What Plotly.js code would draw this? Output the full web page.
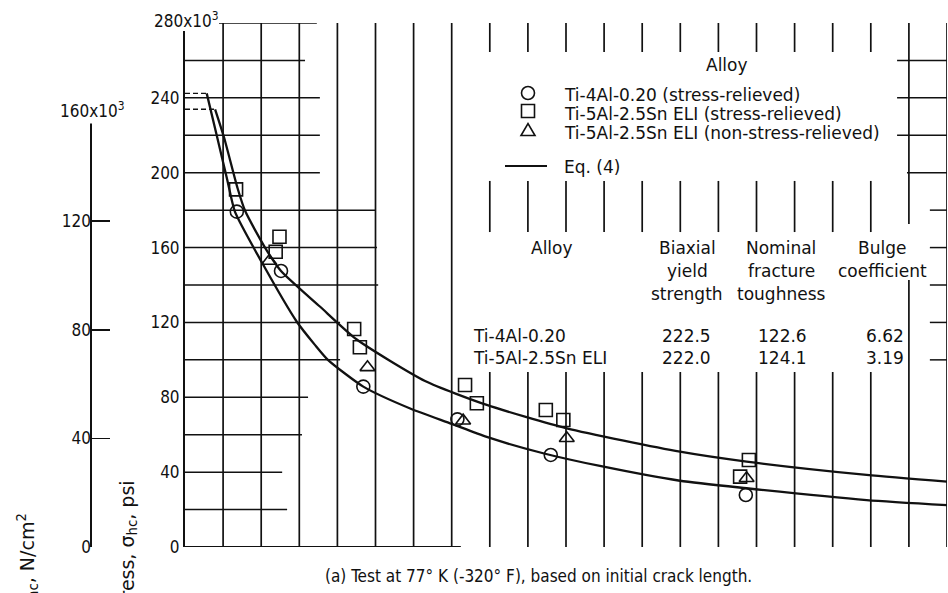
<!DOCTYPE html>
<html>
<head>
<meta charset="utf-8">
<script src="https://cdn.plot.ly/plotly-3.0.1.min.js"></script>
<style>
  html, body { margin: 0; padding: 0; background: #fff; }
  #chart { width: 948px; height: 593px; }
</style>
</head>
<body>
<div id="chart"></div>
<script>
// Hoop stress versus crack length at 77 K. Crack-length axis is in grid divisions (0-20),
// stress in thousands of psi; the N/cm^2 scale is the same stress converted.

// Eq. (4) curves
const eqLowX  = [0.57, 0.84, 1.11, 1.31, 2.02, 2.93, 3.41, 3.75, 4.68, 5.91, 7.00, 7.92, 9.40, 10.89, 12.99, 14.74, 17.89, 20.00];
const eqLowY  = [242.4, 219.3, 196.1, 179.2, 152.0, 120.5, 108.0, 100.0, 85.7, 74.0, 65.8, 58.8, 50.1, 43.3, 35.4, 31.4, 25.1, 22.4];
const eqHighX = [0.79, 1.02, 1.38, 1.58, 2.10, 2.52, 3.54, 4.50, 6.30, 7.92, 10.02, 12.99, 14.74, 17.89, 20.00];
const eqHighY = [233.9, 219.2, 191.7, 179.5, 160.0, 147.5, 128.5, 111.0, 88.7, 75.9, 63.4, 50.9, 45.6, 38.5, 34.9];

// Test points
const ti4AlX    = [1.36, 2.52, 4.68, 7.15, 9.60, 14.72];
const ti4AlY    = [179.2, 147.5, 85.7, 68.2, 49.2, 27.8];
const ti5AlSrX  = [1.34, 2.48, 2.38, 4.44, 4.59, 7.35, 7.66, 9.47, 9.93, 14.80, 14.57];
const ti5AlSrY  = [191.1, 165.8, 157.8, 116.5, 106.7, 86.6, 76.8, 73.2, 67.9, 46.5, 37.6];
const ti5AlNsrX = [2.21, 4.79, 7.30, 10.02, 14.74];
const ti5AlNsrY = [152.8, 96.0, 67.5, 58.1, 36.7];

// Axis ticks
const psiTicks = [0, 40, 80, 120, 160, 200, 240];
const psiTop = 280;
const ncmTicks = [0, 40, 80, 120];
const ncmTop = 160;
const PSI_TO_NCM = 0.68948;

// Legend and property table text
const legendTitle  = 'Alloy';
const legendLabels = ['Ti-4Al-0.20 (stress-relieved)', 'Ti-5Al-2.5Sn ELI (stress-relieved)',
                      'Ti-5Al-2.5Sn ELI (non-stress-relieved)', 'Eq. (4)'];
const tableAlloyHead = 'Alloy';
const tableColumns = [['Biaxial', 'yield', 'strength'], ['Nominal', 'fracture', 'toughness'], ['Bulge', 'coefficient']];
const tableAlloys = ['Ti-4Al-0.20', 'Ti-5Al-2.5Sn ELI'];
const biaxialYield = ['222.5', '222.0'];
const fractureToughness = ['122.6', '124.1'];
const bulgeCoefficient = ['6.62', '3.19'];
const caption = '(a) Test at 77\u00b0 K (-320\u00b0 F), based on initial crack length.';
const psiTitle = 'Hoop stress, \u03c3<sub>hc</sub>, psi';
const ncmTitle = 'Hoop stress, \u03c3<sub>hc</sub>, N/cm<sup>2</sup>';

// ---------------------------------------------------------------------------
const W = 948, H = 593;
const PX = v => v / W;          // pixel column -> paper x
const PY = v => 1 - v / H;      // pixel row -> paper y
const NARROW = '"DejaVu Sans Condensed", "DejaVu Sans", sans-serif';
const WIDE = '"DejaVu Sans", sans-serif';
const INK = '#111';

const traces = [];
[[eqLowX, eqLowY], [eqHighX, eqHighY]].forEach(([xs, ys]) => {
  traces.push({ x: xs, y: ys, mode: 'lines', showlegend: false, hoverinfo: 'skip',
    line: { color: INK, width: 2.3, shape: 'spline', smoothing: 0.6 } });
  // dashed cut-off back to the stress axis
  traces.push({ x: [0, xs[0]], y: [ys[0], ys[0]], mode: 'lines', showlegend: false, hoverinfo: 'skip',
    line: { color: INK, width: 1.4, dash: '5px,3px' } });
});
const markerStyle = sym => ({ symbol: sym, size: 13, color: INK, line: { width: 1.6, color: INK } });
traces.push({ x: ti4AlX, y: ti4AlY, mode: 'markers', name: legendLabels[0], showlegend: false, marker: markerStyle('circle-open') });
traces.push({ x: ti5AlSrX, y: ti5AlSrY, mode: 'markers', name: legendLabels[1], showlegend: false, marker: markerStyle('square-open') });
traces.push({ x: ti5AlNsrX, y: ti5AlNsrY, mode: 'markers', name: legendLabels[2], showlegend: false, marker: markerStyle('triangle-up-open') });
// invisible trace so the secondary stress scale is drawn
traces.push({ x: [0], y: [0], yaxis: 'y2', mode: 'markers', marker: { opacity: 0 }, showlegend: false, hoverinfo: 'skip' });

// Grid: the drafted grid is broken where the legend and table sit
const shapes = [];
const seg = (x0, y0, x1, y1, w) => shapes.push({ type: 'line', xref: 'x', yref: 'y', x0, y0, x1, y1,
  layer: 'below', line: { color: INK, width: w } });
for (let i = 1; i <= 20; i++) {
  if (i <= 7 || i === 20) seg(i, 0, i, 280, 1.7);
  else if (i <= 18) { seg(i, 0, i, 93.5, 1.7); seg(i, 168.3, i, 195.6, 1.7); seg(i, 264.5, i, 280, 1.7); }
  else { seg(i, 0, i, 142.7, 1.7); seg(i, 172.6, i, 280, 1.7); }
}
const gridLeftEnd = { 0: 7.24, 20: 2.68, 40: 2.55, 60: 3.07, 80: 3.23, 100: 4.07, 120: 4.07, 140: 5.07,
  160: 5.04, 180: 4.99, 200: 3.54, 220: 3.54, 240: 3.54, 260: 3.15, 280: 3.46 };
const gridRightStart = { 100: 19.55, 120: 19.55, 140: 19.55, 160: 19.55, 180: 19.55, 200: 18.95,
  220: 18.69, 240: 18.69, 260: 18.69 };
Object.keys(gridLeftEnd).forEach(k => seg(0, +k, gridLeftEnd[k], +k, k === '0' ? 2 : 1.5));
Object.keys(gridRightStart).forEach(k => seg(gridRightStart[k], +k, 20, +k, 1.5));

// secondary scale spine
shapes.push({ type: 'line', xref: 'paper', yref: 'y2', x0: PX(91), x1: PX(91), y0: 0, y1: ncmTop - 4,
  line: { color: INK, width: 2 } });

// Legend symbols
const LX = 528;
shapes.push({ type: 'circle', xref: 'paper', yref: 'paper', xsizemode: 'pixel', ysizemode: 'pixel',
  xanchor: PX(LX), yanchor: PY(93), x0: -6.5, x1: 6.5, y0: -6.5, y1: 6.5, line: { color: INK, width: 1.6 } });
shapes.push({ type: 'rect', xref: 'paper', yref: 'paper', xsizemode: 'pixel', ysizemode: 'pixel',
  xanchor: PX(LX), yanchor: PY(111), x0: -6.5, x1: 6.5, y0: -6.5, y1: 6.5, line: { color: INK, width: 1.6 } });
shapes.push({ type: 'path', xref: 'paper', yref: 'paper', xsizemode: 'pixel', ysizemode: 'pixel',
  xanchor: PX(LX), yanchor: PY(130), path: 'M-7,-5.5 L7,-5.5 L0,6.5 Z', line: { color: INK, width: 1.6 } });
shapes.push({ type: 'line', xref: 'paper', yref: 'paper', x0: PX(505), x1: PX(547), y0: PY(166), y1: PY(166),
  line: { color: INK, width: 2 } });

// Text
const ann = [];
const txt = (text, x, y, xanchor = 'center', size = 17, family = WIDE, extra = {}) => ann.push(Object.assign({
  text, x: PX(x), y: PY(y), xref: 'paper', yref: 'paper', xanchor, yanchor: 'middle', showarrow: false,
  font: { family, size, color: INK } }, extra));

txt(legendTitle, 727, 65);
[95, 114, 133, 167].forEach((y, i) => txt(legendLabels[i], 562, y, 'left'));

txt(tableAlloyHead, 552, 248);
const colX = [687, 781, 882];
tableColumns.forEach((lines, c) => lines.forEach((s, r) => txt(s, colX[c], 248 + r * 23)));
const rowY = [336, 358];
tableAlloys.forEach((s, r) => {
  txt(s, 471, rowY[r], 'left');
  txt(biaxialYield[r], 686, rowY[r]);
  txt(fractureToughness[r], 782, rowY[r]);
  txt(bulgeCoefficient[r], 885, rowY[r]);
});

txt(caption, 538, 576, 'center', 17, NARROW);

const tickFont = { family: NARROW, size: 17, color: INK };
// top value of each stress scale carries the x10^3 multiplier
ann.push({ text: psiTop + 'x10<sup>3</sup>', xref: 'paper', yref: 'y', x: PX(154), y: psiTop, xanchor: 'left',
  yanchor: 'middle', yshift: 3, showarrow: false, bgcolor: '#fff', borderpad: 0, borderwidth: 0, font: tickFont });
ann.push({ text: ncmTop + 'x10<sup>3</sup>', xref: 'paper', yref: 'y2', x: PX(60), y: ncmTop, xanchor: 'left',
  yanchor: 'middle', yshift: 3, showarrow: false, bgcolor: '#fff', borderpad: 0, borderwidth: 0, font: tickFont });

// rotated scale titles, running off the bottom edge
ann.push({ text: ncmTitle, xref: 'paper', yref: 'paper', x: PX(27), y: PY(511), xanchor: 'center', yanchor: 'top',
  textangle: -90, showarrow: false, font: { family: WIDE, size: 19, color: INK } });
ann.push({ text: psiTitle, xref: 'paper', yref: 'paper', x: PX(128), y: PY(478), xanchor: 'center', yanchor: 'top',
  textangle: -90, showarrow: false, font: { family: WIDE, size: 19, color: INK } });

const layout = {
  width: W, height: H,
  margin: { l: 0, r: 0, t: 0, b: 0 },
  paper_bgcolor: '#fff', plot_bgcolor: 'rgba(0,0,0,0)',
  showlegend: false,
  xaxis: { domain: [PX(185), PX(947)], range: [0, 20], showgrid: false, zeroline: false, showline: false,
    showticklabels: false, ticks: '', fixedrange: true },
  yaxis: { domain: [PY(547), PY(23)], range: [0, 280], showgrid: false, zeroline: false,
    showline: true, linecolor: INK, linewidth: 2, ticks: '',
    tickvals: psiTicks, ticktext: psiTicks.map(String), tickfont: tickFont, fixedrange: true },
  yaxis2: { overlaying: 'y', anchor: 'free', side: 'left', position: PX(91),
    range: [0, 280 * PSI_TO_NCM], showgrid: false, zeroline: false, showline: false,
    ticks: 'inside', ticklen: 18, tickwidth: 1.6, tickcolor: INK,
    tickvals: ncmTicks, ticktext: ncmTicks.map(String), tickfont: tickFont, fixedrange: true },
  shapes, annotations: ann
};

Plotly.newPlot('chart', traces, layout, { staticPlot: true, displayModeBar: false });
</script>
</body>
</html>
